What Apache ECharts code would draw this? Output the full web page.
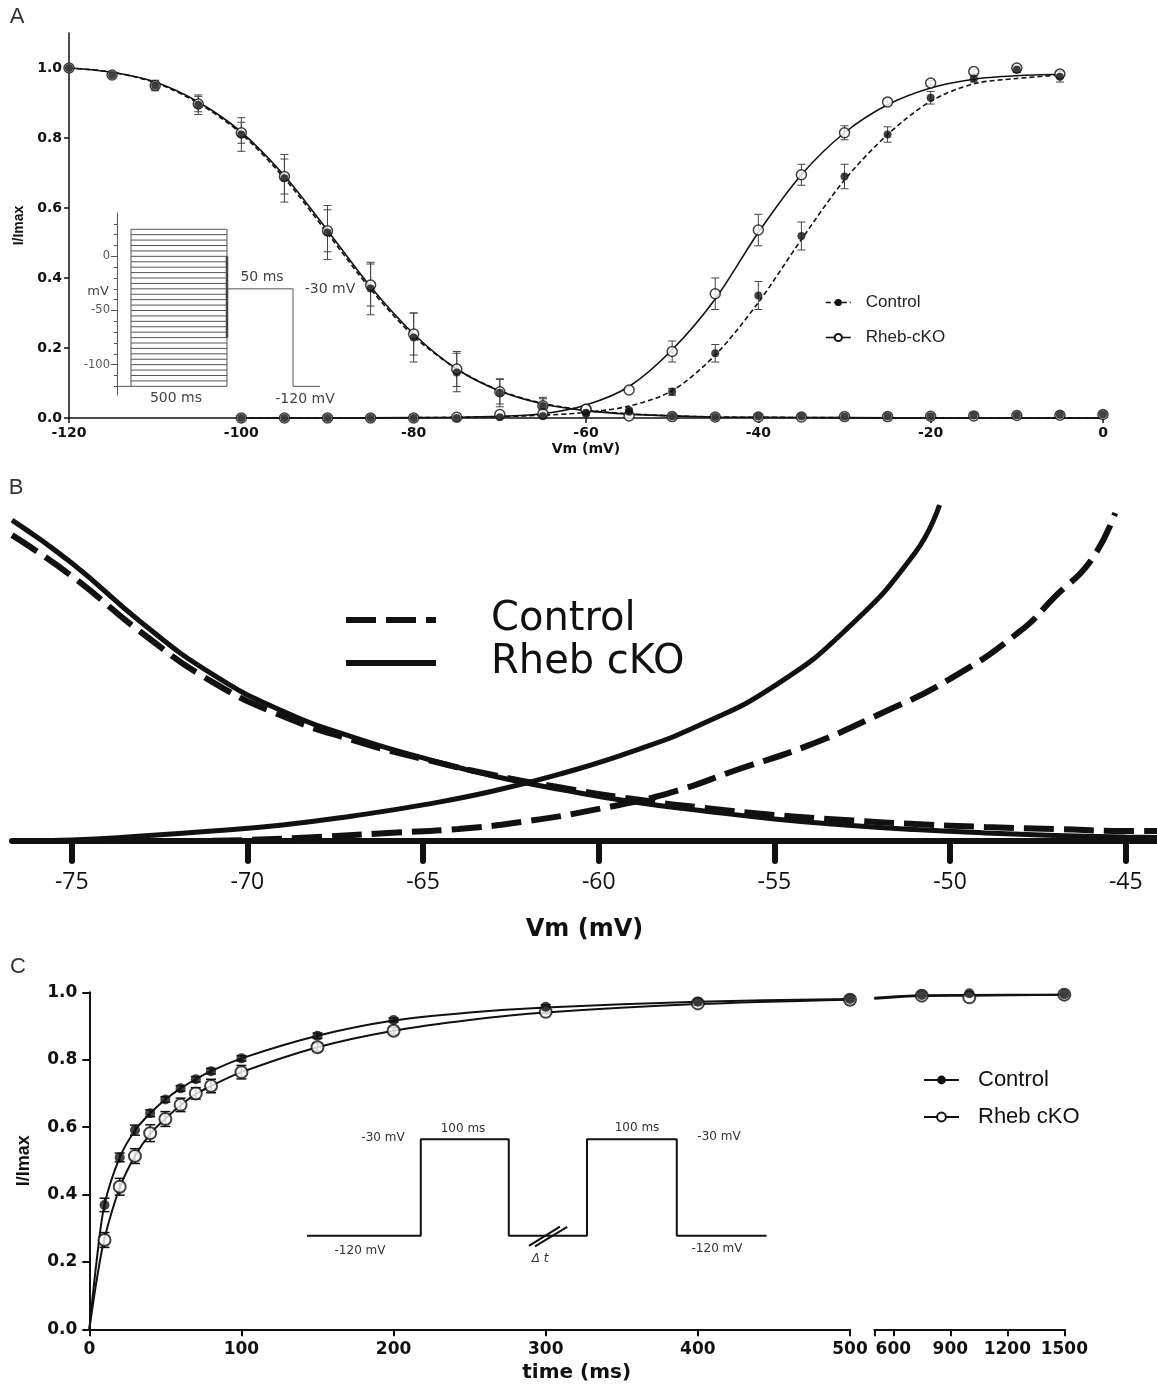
<!DOCTYPE html>
<html><head><meta charset="utf-8">
<script src="https://cdn.jsdelivr.net/npm/echarts@6/dist/echarts.min.js"></script>
<style>html,body{margin:0;padding:0;background:#fff}#c{width:1157px;height:1385px}</style>
</head><body><div id="c"></div>
<script>
// ---------------- Panel A data (steady-state inactivation / activation) ----------------
const vA = [-120,-115,-110,-105,-100,-95,-90,-85,-80,-75,-70,-65,-60,-55,-50,-45,-40,-35,-30,-25,-20,-15,-10,-5,0];
const ctrlInactA = [1.0,0.98,0.95,0.895,0.81,0.685,0.53,0.37,0.23,0.13,0.072,0.034,0.015,0.018,0.005,0.003,0.004,0.004,0.004,0.005,0.005,0.007,0.008,0.009,0.011];
const ckoInactA  = [1.0,0.98,0.95,0.897,0.815,0.69,0.535,0.38,0.24,0.14,0.075,0.035,0.025,0.006,0.004,0.003,0.003,0.003,0.004,0.004,0.005,0.006,0.007,0.008,0.01];
const ctrlInactErrA = [0,0,0.015,0.028,0.048,0.068,0.077,0.075,0.07,0.055,0.04,0.025,0,0,0,0,0,0,0,0,0,0,0,0,0];
const ckoInactErrA  = [0,0,0.012,0.022,0.03,0.05,0.06,0.06,0.06,0.05,0.035,0.02,0,0,0,0,0,0,0,0,0,0,0,0,0];
const vActA = [-100,-95,-90,-85,-80,-75,-70,-65,-60,-55,-50,-45,-40,-35,-30,-25,-20,-15,-10,-5];
const ctrlActA = [0,0,0,0,0,0,0.002,0.005,0.012,0.022,0.075,0.185,0.35,0.52,0.69,0.81,0.915,0.97,0.995,0.975];
const ckoActA  = [0,0,0,0,0,0.002,0.01,0.012,0.025,0.08,0.19,0.355,0.537,0.695,0.815,0.903,0.957,0.99,1.0,0.983];
const ctrlActErrA = [0,0,0,0,0,0,0,0,0,0,0.01,0.025,0.04,0.04,0.035,0.022,0.018,0.01,0.008,0.015];
const ckoActErrA  = [0,0,0,0,0,0,0,0,0,0,0.03,0.045,0.045,0.03,0.02,0.01,0.008,0.006,0.006,0.01];
// fitted curves
const fitVA = [-120,-115,-110,-105,-100,-95,-90,-85,-80,-75,-70,-65,-60,-55,-50,-45,-40,-30,-20,-10,0];
const ctrlInactFitA = [1.0,0.988,0.958,0.9,0.812,0.685,0.528,0.368,0.234,0.14,0.078,0.042,0.022,0.012,0.006,0.003,0.002,0.001,0,0,0];
const ckoInactFitA  = [1.0,0.988,0.96,0.903,0.817,0.692,0.536,0.375,0.24,0.14,0.077,0.04,0.021,0.011,0.006,0.003,0.002,0.001,0,0,0];
const fitActVA = [-100,-90,-80,-75,-70,-65,-60,-55,-50,-45,-40,-35,-30,-25,-20,-15,-10,-5];
const ctrlActFitA = [0,0,0.001,0.002,0.004,0.008,0.016,0.034,0.078,0.18,0.33,0.51,0.68,0.81,0.905,0.955,0.97,0.98];
const ckoActFitA  = [0,0,0.001,0.002,0.005,0.012,0.037,0.09,0.195,0.34,0.53,0.695,0.815,0.895,0.943,0.968,0.978,0.982];
const xTicksA = [-120,-100,-80,-60,-40,-20,0];
const yTicksA = [0,0.2,0.4,0.6,0.8,1.0];
// inset A: voltage protocol (schematic time units, mV)
const protoLevelsA = [-120,-115,-110,-105,-100,-95,-90,-85,-80,-75,-70,-65,-60,-55,-50,-45,-40,-35,-30,-25,-20,-15,-10,-5,0,5,10,15,20,25];
const protoA = {t0:1, tPre:14, tEnd:110, tTestEnd:176, tTail:203, hold:-120, test:-30, stepHi:0, stepLo:-75};
const insetAMinorTicks = [-120,-110,-100,-90,-80,-70,-60,-50,-40,-30,-20,-10,0,10,20,30];
const insetAMajorTicks = [0,-50,-100];

// ---------------- Panel B data (window current overlap, zoom) ----------------
const vBInact = [-76.7,-75,-73,-71,-69,-67,-65,-63,-61,-59,-57,-55,-53,-51,-49,-47,-45,-44.1];
const ckoInactB  = [0.160,0.1386,0.1087,0.0832,0.0648,0.0518,0.0414,0.0324,0.0254,0.0194,0.015,0.011,0.008,0.0057,0.004,0.0027,0.002,0.0017];
const ctrlInactB = [0.1525,0.1321,0.1037,0.0793,0.0623,0.0503,0.0409,0.0329,0.0264,0.0209,0.0165,0.013,0.0105,0.0085,0.007,0.006,0.005,0.005];
const vBActCko = [-76.7,-75,-73,-71,-69,-67,-65,-63,-61,-59,-57,-55,-53,-51,-50.3];
const ckoActB  = [0,0.0005,0.0025,0.005,0.008,0.0125,0.018,0.0249,0.0339,0.0449,0.0588,0.0773,0.1047,0.1436,0.1675];
const vBActCtrl = [-76.7,-72,-70,-68,-66,-64,-62,-60,-58,-56,-54,-52,-50,-48,-47,-46,-45.3];
const ctrlActB  = [0,0,0.0005,0.002,0.004,0.006,0.01,0.016,0.0239,0.0359,0.0479,0.0633,0.0808,0.1047,0.1221,0.1396,0.1635];
const xTicksB = [-75,-70,-65,-60,-55,-50,-45];

// ---------------- Panel C data (recovery from inactivation) ----------------
const tC = [10,20,30,40,50,60,70,80,100,150,200,300,400,500];
const ctrlC = [0.369,0.51,0.591,0.641,0.682,0.715,0.742,0.766,0.804,0.871,0.918,0.957,0.972,0.98];
const ckoC  = [0.265,0.423,0.514,0.582,0.624,0.666,0.70,0.722,0.763,0.837,0.886,0.942,0.967,0.978];
const ctrlErrC = [0.02,0.013,0.015,0.01,0.008,0.008,0.008,0.008,0.008,0.008,0.006,0.006,0.005,0.005];
const ckoErrC  = [0.022,0.025,0.022,0.025,0.022,0.02,0.017,0.02,0.02,0.012,0.01,0.006,0.005,0.005];
const tC2 = [750,1000,1500];
const ctrlC2 = [0.992,0.997,0.994];
const ckoC2  = [0.99,0.985,0.993];
const fitTC = [0,5,10,20,30,40,50,60,70,80,100,150,200,250,300,400,500];
const ctrlFitC = [0,0.21,0.37,0.51,0.59,0.641,0.682,0.715,0.742,0.766,0.804,0.871,0.916,0.94,0.955,0.972,0.98];
const ckoFitC  = [0,0.15,0.27,0.42,0.514,0.58,0.625,0.665,0.698,0.722,0.763,0.837,0.886,0.918,0.94,0.965,0.978];
const fitTC2 = [500,750,1000,1500];
const ctrlFitC2 = [0.984,0.991,0.992,0.993];
const ckoFitC2  = [0.981,0.989,0.99,0.993];
const xTicksC2 = [500,600,900,1200,1500];
const xLabelsC2 = [600,900,1200,1500];
// inset C: paired-pulse protocol (schematic time units, mV)
const protoTC = [0,128,128,227,227,315,315,416,416,517];
const protoVC = [-120,-120,-30,-30,-120,-120,-30,-30,-120,-120];
const breakMarksC = [[249.7,-129.3,284.6,-111.4],[256.5,-129.8,292.8,-111.6]];

// ---------------- helpers ----------------
const K = '#111';
const zip = (xs, ys) => xs.map((x, i) => [x, ys[i]]);
const zipE = (xs, ys, es) => xs.map((x, i) => [x, ys[i], es[i]]).filter(d => d[2] > 0);
function errRender(capW, color, lw) {
  return function (params, api) {
    const x = api.value(0), y = api.value(1), e = api.value(2);
    const a = api.coord([x, y + e]), b = api.coord([x, y - e]);
    const st = {stroke: color, lineWidth: lw};
    return {type: 'group', children: [
      {type: 'line', shape: {x1: a[0], y1: a[1], x2: b[0], y2: b[1]}, style: st},
      {type: 'line', shape: {x1: a[0] - capW / 2, y1: a[1], x2: a[0] + capW / 2, y2: a[1]}, style: st},
      {type: 'line', shape: {x1: b[0] - capW / 2, y1: b[1], x2: b[0] + capW / 2, y2: b[1]}, style: st}
    ]};
  };
}
function segRender(color, lw) {
  return function (params, api) {
    const a = api.coord([api.value(0), api.value(1)]);
    const b = api.coord([api.value(2), api.value(3)]);
    return {type: 'line', shape: {x1: a[0], y1: a[1], x2: b[0], y2: b[1]}, style: {stroke: color, lineWidth: lw}};
  };
}
const boldAxisFont = (s) => ({fontFamily: 'DejaVu Sans', fontWeight: 'bold', fontSize: s, color: K});

// protocol A segments built from the protocol definition
const P = protoA;
const protoSegA = [[P.t0, P.hold, P.tPre, P.hold], [P.tPre, protoLevelsA[0], P.tPre, protoLevelsA[protoLevelsA.length - 1]],
  [P.tEnd, protoLevelsA[0], P.tEnd, protoLevelsA[protoLevelsA.length - 1]]]
  .concat(protoLevelsA.map(L => [P.tPre, L, P.tEnd, L]))
  .concat([[P.tEnd, P.test, P.tTestEnd, P.test], [P.tTestEnd, P.test, P.tTestEnd, P.hold], [P.tTestEnd, P.hold, P.tTail, P.hold]]);
const protoSegAThick = [[P.tEnd, P.stepLo, P.tEnd, P.stepHi]];

// ---------------- grids & axes ----------------
const grid = [
  {left: 69, top: 33, width: 1034, height: 385},        // 0 A
  {left: 117, top: 213, width: 260, height: 182},       // 1 A inset
  {left: 12, top: 500, width: 1145, height: 341},       // 2 B
  {left: 89.3, top: 992.3, width: 760.7, height: 337},  // 3 C1
  {left: 874.3, top: 992.3, width: 190, height: 337},   // 4 C2
  {left: 307, top: 1107, width: 480, height: 161}       // 5 C inset
].map(g => Object.assign(g, {outerBoundsMode: 'none', containLabel: false}));

const xAxis = [
  {gridIndex: 0, type: 'value', min: -120, max: 0, interval: 20,
   axisLine: {onZero: false, lineStyle: {color: K, width: 1.5}}, axisTick: {length: 5, lineStyle: {color: K, width: 1.5}},
   axisLabel: Object.assign({margin: 8, customValues: xTicksA}, boldAxisFont(14)), splitLine: {show: false},
   name: 'Vm (mV)', nameLocation: 'middle', nameGap: 24, nameTextStyle: boldAxisFont(14)},
  {gridIndex: 1, type: 'value', min: 0, max: 260, show: false, axisLine: {onZero: false}},
  {gridIndex: 2, type: 'value', min: -76.7, max: -44.11,
   axisLine: {onZero: false, lineStyle: {color: K, width: 6}},
   axisTick: {customValues: xTicksB, length: 20, lineStyle: {color: K, width: 6, cap: 'round'}},
   axisLabel: {customValues: xTicksB, margin: 30, fontFamily: 'Open Sans', fontSize: 23, color: K},
   splitLine: {show: false},
   name: 'Vm (mV)', nameLocation: 'middle', nameGap: 77, nameTextStyle: boldAxisFont(24)},
  {gridIndex: 3, type: 'value', min: 0, max: 500, interval: 100,
   axisLine: {onZero: false, lineStyle: {color: K, width: 2}}, axisTick: {length: 7, lineStyle: {color: K, width: 2}},
   axisLabel: Object.assign({margin: 12, formatter: v => String(v)}, boldAxisFont(17)), splitLine: {show: false},
   name: 'time (ms)', nameLocation: 'middle', nameGap: 33,
   nameTextStyle: Object.assign({padding: [0, 0, 0, 214]}, boldAxisFont(20))},
  {gridIndex: 4, type: 'value', min: 500, max: 1500,
   axisLine: {onZero: false, lineStyle: {color: K, width: 2}},
   axisTick: {customValues: xTicksC2, length: 7, lineStyle: {color: K, width: 2}},
   axisLabel: Object.assign({margin: 12, customValues: xLabelsC2, formatter: v => String(v)}, boldAxisFont(17)),
   splitLine: {show: false}},
  {gridIndex: 5, type: 'value', min: 0, max: 540, show: false, axisLine: {onZero: false}}
];
const yAxis = [
  {gridIndex: 0, type: 'value', min: 0, max: 1.1,
   axisLine: {show: true, onZero: false, lineStyle: {color: K, width: 1.5}},
   axisTick: {show: true, customValues: yTicksA, length: 5, lineStyle: {color: K, width: 1.5}},
   axisLabel: Object.assign({margin: 7, customValues: yTicksA, formatter: v => v.toFixed(1)}, boldAxisFont(14)),
   splitLine: {show: false},
   name: 'I/Imax', nameLocation: 'middle', nameGap: 43,
   nameTextStyle: {fontFamily: 'Liberation Sans', fontWeight: 'bold', fontSize: 14, color: K}},
  {gridIndex: 1, type: 'value', min: -128, max: 40, position: 'left',
   axisLine: {show: true, onZero: false, lineStyle: {color: '#555', width: 1}},
   axisTick: {show: true, customValues: insetAMinorTicks, length: 3, lineStyle: {color: '#555', width: 1}},
   axisLabel: {show: false}, splitLine: {show: false}},
  {gridIndex: 1, type: 'value', min: -128, max: 40, position: 'left', offset: 0,
   axisLine: {show: false, onZero: false},
   axisTick: {show: true, customValues: insetAMajorTicks, length: 6, lineStyle: {color: '#555', width: 1}},
   axisLabel: {customValues: insetAMajorTicks, margin: 7, fontFamily: 'DejaVu Sans', fontSize: 11.5, color: '#555'},
   splitLine: {show: false}},
  {gridIndex: 2, type: 'value', min: 0, max: 0.17, show: false, axisLine: {onZero: false}},
  {gridIndex: 3, type: 'value', min: 0, max: 1, interval: 0.2,
   axisLine: {show: true, onZero: false, lineStyle: {color: K, width: 2}},
   axisTick: {show: true, length: 7, lineStyle: {color: K, width: 2}},
   axisLabel: Object.assign({margin: 12, formatter: v => v.toFixed(1)}, boldAxisFont(17)),
   splitLine: {show: false},
   name: 'I/Imax', nameLocation: 'middle', nameGap: 56,
   nameTextStyle: {fontFamily: 'Liberation Sans', fontWeight: 'bold', fontSize: 18, color: K}},
  {gridIndex: 4, type: 'value', min: 0, max: 1, show: false, axisLine: {onZero: false}},
  {gridIndex: 5, type: 'value', min: -150, max: 0, show: false, axisLine: {onZero: false}}
];

// ---------------- series ----------------
const series = [];
const fitLine = (name, xi, yi, data, ls, sym, extra) => Object.assign({
  type: 'line', name, xAxisIndex: xi, yAxisIndex: yi, data, smooth: 0.3,
  symbol: sym, symbolSize: 7, showSymbol: false, clip: false, silent: true,
  lineStyle: Object.assign({color: K}, ls), itemStyle: {color: K}, z: 3
}, extra || {});
const pts = (name, xi, yi, data, open, size, bw) => ({
  type: 'scatter', name, xAxisIndex: xi, yAxisIndex: yi, data, symbol: 'circle', symbolSize: size, silent: true,
  itemStyle: open ? {color: '#fff', borderColor: K, borderWidth: bw} : {color: K}, z: open ? 5 : 6
});
const errs = (name, xi, yi, data, cap, color, lw) => ({
  type: 'custom', name, xAxisIndex: xi, yAxisIndex: yi, data, renderItem: errRender(cap, color, lw),
  encode: {x: 0, y: 1}, silent: true, z: 4
});
const segs = (name, xi, yi, data, color, lw) => ({
  type: 'custom', name, xAxisIndex: xi, yAxisIndex: yi, data, renderItem: segRender(color, lw),
  encode: {x: [0, 2], y: [1, 3]}, silent: true, z: 4
});

// Panel A
series.push(fitLine('A:Control', 0, 0, zip(fitVA, ctrlInactFitA), {width: 1.6, type: [5, 3]}, 'circle'));
series.push(fitLine('A:Control', 0, 0, zip(fitActVA, ctrlActFitA), {width: 1.6, type: [5, 3]}, 'circle'));
series.push(fitLine('A:Rheb-cKO', 0, 0, zip(fitVA, ckoInactFitA), {width: 1.6}, 'emptyCircle'));
series.push(fitLine('A:Rheb-cKO', 0, 0, zip(fitActVA, ckoActFitA), {width: 1.6}, 'emptyCircle'));
series.push(errs('errA1', 0, 0, zipE(vA, ctrlInactA, ctrlInactErrA), 8, '#444', 1));
series.push(errs('errA2', 0, 0, zipE(vA, ckoInactA, ckoInactErrA), 8, '#444', 1));
series.push(errs('errA3', 0, 0, zipE(vActA, ctrlActA, ctrlActErrA), 8, '#444', 1));
series.push(errs('errA4', 0, 0, zipE(vActA, ckoActA, ckoActErrA), 8, '#444', 1));
series.push(pts('ptsA1', 0, 0, zip(vA, ckoInactA), true, 10, 1.5));
series.push(pts('ptsA2', 0, 0, zip(vActA, ckoActA), true, 10, 1.5));
series.push(pts('ptsA3', 0, 0, zip(vA, ctrlInactA), false, 8));
series.push(pts('ptsA4', 0, 0, zip(vActA, ctrlActA), false, 8));
// inset A
series.push(segs('protoA', 1, 1, protoSegA, '#555', 1));
series.push(segs('protoA2', 1, 1, protoSegAThick, '#444', 2.5));

// Panel B
series.push(fitLine('B:Control', 2, 3, zip(vBInact, ctrlInactB), {width: 6, type: [30, 10]}, 'none', {smooth: 0.5}));
series.push(fitLine('B:Control', 2, 3, zip(vBActCtrl, ctrlActB), {width: 6, type: [30, 10]}, 'none', {smooth: 0.5}));
series.push(fitLine('B:Rheb cKO', 2, 3, zip(vBInact, ckoInactB), {width: 5}, 'none', {smooth: 0.5}));
series.push(fitLine('B:Rheb cKO', 2, 3, zip(vBActCko, ckoActB), {width: 5}, 'none', {smooth: 0.5}));

// Panel C
series.push(fitLine('C:Control', 3, 4, zip(fitTC, ctrlFitC), {width: 2}, 'circle'));
series.push(fitLine('C:Control', 4, 5, zip(fitTC2, ctrlFitC2), {width: 2}, 'circle'));
series.push(fitLine('C:Rheb cKO', 3, 4, zip(fitTC, ckoFitC), {width: 2}, 'emptyCircle'));
series.push(fitLine('C:Rheb cKO', 4, 5, zip(fitTC2, ckoFitC2), {width: 2}, 'emptyCircle'));
series.push(errs('errC1', 3, 4, zipE(tC, ckoC, ckoErrC), 10, K, 1.5));
series.push(errs('errC2', 3, 4, zipE(tC, ctrlC, ctrlErrC), 10, K, 1.5));
series.push(pts('ptsC1', 3, 4, zip(tC, ckoC), true, 12, 2));
series.push(pts('ptsC2', 4, 5, zip(tC2, ckoC2), true, 12, 2));
series.push(pts('ptsC3', 3, 4, zip(tC, ctrlC), false, 10));
series.push(pts('ptsC4', 4, 5, zip(tC2, ctrlC2), false, 10));
// inset C
series.push({type: 'line', name: 'protoC', xAxisIndex: 5, yAxisIndex: 6, data: zip(protoTC, protoVC),
  symbol: 'none', lineStyle: {color: K, width: 2}, silent: true, clip: false, z: 4});
series.push(segs('breakC', 5, 6, breakMarksC, K, 2));

// ---------------- texts ----------------
const T = (text, x, y, font, fill) => ({type: 'text', x, y, silent: true,
  style: {text, font, fill: fill || '#222', align: 'center', verticalAlign: 'middle'}});
const graphic = [
  T('A', 17, 17, '22px "Liberation Sans"', '#333'),
  T('B', 16, 488, '22px "Liberation Sans"', '#333'),
  T('C', 18, 967, '22px "Liberation Sans"', '#333'),
  T('50 ms', 262, 277, '14px "DejaVu Sans"', '#444'),
  T('-30 mV', 330, 289, '14px "DejaVu Sans"', '#444'),
  T('500 ms', 176, 398, '14px "DejaVu Sans"', '#444'),
  T('-120 mV', 305, 399, '14px "DejaVu Sans"', '#444'),
  T('mV', 98, 292, '13px "DejaVu Sans"', '#444'),
  T('-30 mV', 383, 1138, '12px "DejaVu Sans"', '#333'),
  T('100 ms', 463, 1129, '12px "DejaVu Sans"', '#333'),
  T('-120 mV', 360, 1251, '12px "DejaVu Sans"', '#333'),
  T('100 ms', 637, 1128, '12px "DejaVu Sans"', '#333'),
  T('-30 mV', 719, 1137, '12px "DejaVu Sans"', '#333'),
  T('-120 mV', 717, 1249, '12px "DejaVu Sans"', '#333'),
  T('Δ t', 540, 1259, 'italic 12px "DejaVu Sans"', '#333')
];

const fmt = n => n.split(':')[1];
const legend = [
  {data: [{name: 'A:Control', lineStyle: {width: 1.6}}, {name: 'A:Rheb-cKO', lineStyle: {width: 1.6}}],
   orient: 'vertical', left: 825, top: 294, padding: 0,
   itemWidth: 25, itemHeight: 9, itemGap: 18, formatter: fmt, selectedMode: false,
   textStyle: {fontFamily: 'Liberation Sans', fontSize: 17, color: '#222', padding: [0, 0, 0, 10]}},
  {data: [{name: 'B:Control', itemStyle: {opacity: 0}, lineStyle: {width: 6}},
          {name: 'B:Rheb cKO', itemStyle: {opacity: 0}, lineStyle: {width: 6}}],
   orient: 'vertical', left: 343, top: 600, padding: 0,
   itemWidth: 90, itemHeight: 6, itemGap: 3, formatter: fmt, selectedMode: false,
   textStyle: {fontFamily: 'DejaVu Sans', fontSize: 40, color: K, padding: [0, 0, 0, 50]}},
  {data: [{name: 'C:Control', lineStyle: {width: 2}}, {name: 'C:Rheb cKO', lineStyle: {width: 2}}],
   orient: 'vertical', left: 923, top: 1069, padding: 0,
   itemWidth: 35, itemHeight: 11, itemGap: 15, formatter: fmt, selectedMode: false,
   textStyle: {fontFamily: 'Liberation Sans', fontSize: 22, color: K, padding: [0, 0, 0, 14]}}
];

const chart = echarts.init(document.getElementById('c'), null, {renderer: 'canvas'});
chart.setOption({animation: false, backgroundColor: '#fff', grid, xAxis, yAxis, series, legend, graphic});
</script></body></html>
